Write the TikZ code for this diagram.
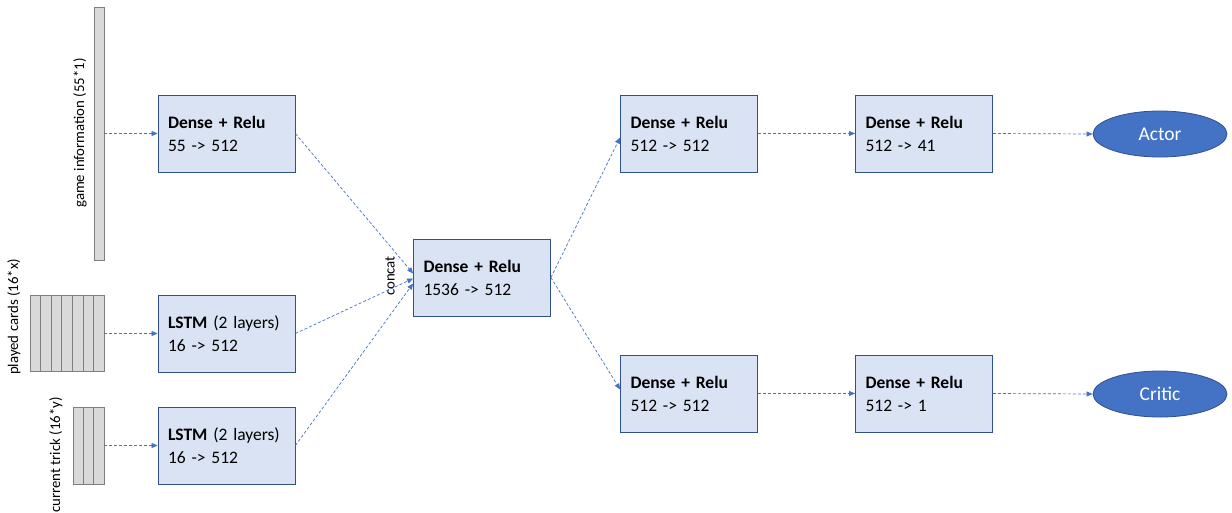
\documentclass[tikz,border=0pt]{standalone}
\usepackage{fontspec}
\setmainfont{Carlito}
\usetikzlibrary{arrows.meta,shapes.geometric,calc}
\definecolor{arrowblue}{HTML}{4472C4}
\definecolor{boxfill}{HTML}{DAE3F3}
\definecolor{boxline}{HTML}{2F528F}
\definecolor{barfill}{HTML}{D9D9D9}
\definecolor{barline}{HTML}{7F7F7F}
\tikzset{
  layerbox/.style={draw=boxline, line width=0.8pt, fill=boxfill, minimum width=137pt, minimum height=77pt,
    text width=117pt, align=left, inner xsep=10pt, inner ysep=0pt, font=\fontsize{17.5}{23}\selectfont},
  outnode/.style={ellipse, draw=boxline, line width=0.8pt, fill=arrowblue, text=white,
    minimum width=134pt, minimum height=46pt, inner sep=0pt, font=\fontsize{19.5}{22}\selectfont},
  inbar/.style={draw=barline, line width=0.8pt, fill=barfill, inner sep=0pt},
  flow/.style={draw=arrowblue, line width=0.7pt, dash pattern=on 3pt off 2pt,
    -{Triangle[length=6pt,width=5pt]}},
  inlabel/.style={font=\fontsize{14.8}{17}\selectfont, rotate=90, inner sep=0pt}
}
\begin{document}
\begin{tikzpicture}[x=1pt,y=-1pt]
\useasboundingbox (0,0) rectangle (1232,512);
% inputs
\node[inbar, minimum width=10pt, minimum height=253pt] (gbar) at (99,133.5) {};
\node[inbar, minimum width=74pt, minimum height=76pt] (pcards) at (67,333) {};
\foreach \i in {1,...,6} {
  \draw[barline, line width=0.8pt] ($(pcards.north west)!\i/7!(pcards.north east)$) -- ($(pcards.south west)!\i/7!(pcards.south east)$);
}
\node[inbar, minimum width=31pt, minimum height=77pt] (ctrick) at (88.5,445.5) {};
\foreach \i in {1,2} {
  \draw[barline, line width=0.8pt] ($(ctrick.north west)!\i/3!(ctrick.north east)$) -- ($(ctrick.south west)!\i/3!(ctrick.south east)$);
}
\node[inlabel] (glabel) at (80,133) {game information (55*1)};
\node[inlabel] (plabel) at (14,317) {played cards (16*x)};
\node[inlabel] (clabel) at (56,455) {current trick (16*y)};
% layers
\node[layerbox] (b1) at (226.5,133.5) {\textbf{Dense + Relu}\\55 -> 512};
\node[layerbox] (l1) at (226.5,333.5) {\textbf{LSTM} (2 layers)\\16 -> 512};
\node[layerbox] (l2) at (226.5,445.5) {\textbf{LSTM} (2 layers)\\16 -> 512};
\node[layerbox] (c) at (482,277.5) {\textbf{Dense + Relu}\\1536 -> 512};
\node[layerbox] (r1) at (689,133.5) {\textbf{Dense + Relu}\\512 -> 512};
\node[layerbox] (r2) at (924,133.5) {\textbf{Dense + Relu}\\512 -> 41};
\node[layerbox] (q1) at (689,393.5) {\textbf{Dense + Relu}\\512 -> 512};
\node[layerbox] (q2) at (924,393.5) {\textbf{Dense + Relu}\\512 -> 1};
\node[outnode] (actor) at (1160,134) {Actor};
\node[outnode] (critic) at (1160,394) {Critic};
\node[inlabel] (concat) at (390,276) {concat};
% connectors
\draw[flow] (gbar.east |- b1.west) -- (b1.west);
\draw[flow] (pcards.east |- l1.west) -- (l1.west);
\draw[flow] (ctrick.east |- l2.west) -- (l2.west);
\draw[flow] (b1.east) -- ($(c.west)+(0,-4)$);
\draw[flow] (l1.east) -- ($(c.west)+(0,1)$);
\draw[flow] (l2.east) -- ($(c.west)+(0,6)$);
\draw[flow] (c.east) -- ($(r1.west)+(0,4)$);
\draw[flow] (c.east) -- ($(q1.west)+(0,-4)$);
\draw[flow] (r1.east) -- (r2.west);
\draw[flow] (q1.east) -- (q2.west);
\draw[flow] (r2.east) -- (actor.west);
\draw[flow] (q2.east) -- (critic.west);
\end{tikzpicture}
\end{document}
